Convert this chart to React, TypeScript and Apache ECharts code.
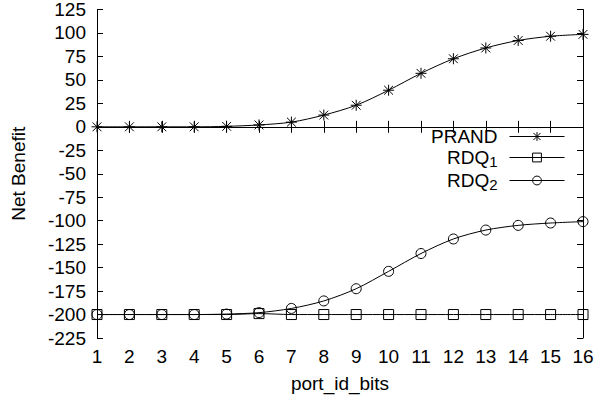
import React, { useEffect, useRef } from "react";
import * as echarts from "echarts";

const xValues = [1, 2, 3, 4, 5, 6, 7, 8, 9, 10, 11, 12, 13, 14, 15, 16];
const prand = [0, 0, 0, 0, 0.5, 2, 5, 12.5, 23, 39, 57, 72.5, 84, 92, 96.5, 98.5];
const rdq1 = [-200, -200, -200, -200, -200, -199, -200, -200, -200, -200, -200, -200, -200, -200, -200, -200];
const rdq2 = [-200, -200, -200, -200, -199.5, -198, -193.5, -185.5, -172.5, -154, -135, -119.5, -110, -105, -102.5, -101];
const yMin = -225;
const yMax = 125;
const yStep = 25;
const xMin = 1;
const xMax = 16;

const FONT = "Liberation Sans, Arial, Helvetica, sans-serif";
const ASTERISK = "path://M0 5H10M5 0V10M1 1L9 9M9 1L1 9";

export default function App() {
  const ref = useRef<HTMLDivElement>(null);
  useEffect(() => {
    if (!ref.current) return;
    const chart = echarts.init(ref.current, null, { renderer: "svg" });
    const axisLabel = { color: "#000", fontSize: 19, fontFamily: FONT };
    const mkSeries = (name: string, vals: number[], symbol: string, size: number) => ({
      name,
      type: "line",
      data: xValues.map((x, i) => [x, vals[i]]),
      symbol,
      symbolSize: size,
      smooth: 0.3,
      showSymbol: true,
      lineStyle: { color: "#000", width: 1 },
      itemStyle: { color: "transparent", borderColor: "#000", borderWidth: 1 },
      emphasis: { disabled: true },
    });
    chart.setOption({
      animation: false,
      backgroundColor: "#fff",
      grid: { left: 97, right: 14, top: 8, bottom: 66, containLabel: false },
      legend: {
        orient: "vertical",
        right: 27,
        top: 122,
        align: "right",
        itemWidth: 55,
        itemHeight: 11,
        itemGap: 0,
        data: ["PRAND", "RDQ1", "RDQ2"],
        lineStyle: { width: 1, color: "#000" },
        itemStyle: { color: "transparent", borderColor: "#000", borderWidth: 1 },
        formatter: (name: string) =>
          name === "PRAND" ? "{m|PRAND}" : "{m|RDQ}{s|" + name.slice(3) + "}",
        textStyle: {
          color: "#000",
          fontFamily: FONT,
          padding: [0, 7, 0, 0],
          rich: {
            m: { fontSize: 19, lineHeight: 15, fontFamily: FONT, color: "#000" },
            s: { fontSize: 15, lineHeight: 7, padding: [8, 0, 0, 0], fontFamily: FONT, color: "#000" },
          },
        },
      },
      xAxis: [
        {
          type: "value",
          min: xMin,
          max: xMax,
          interval: 1,
          name: "port_id_bits",
          nameLocation: "middle",
          nameGap: 36,
          nameTextStyle: { color: "#000", fontSize: 19, fontFamily: FONT },
          axisLine: { show: true, lineStyle: { color: "#000", width: 1 } },
          axisTick: { show: true, inside: true, length: 6, lineStyle: { color: "#000" } },
          axisLabel: { ...axisLabel, margin: 9 },
          splitLine: { show: false },
        },
        {
          type: "value",
          position: "top",
          min: xMin,
          max: xMax,
          interval: 1,
          axisLine: { show: true, lineStyle: { color: "#000", width: 1 } },
          axisTick: { show: true, inside: true, length: 6, lineStyle: { color: "#000" } },
          axisLabel: { show: false },
          splitLine: { show: false },
        },
      ],
      yAxis: [
        {
          type: "value",
          min: yMin,
          max: yMax,
          interval: yStep,
          name: "Net Benefit",
          nameLocation: "middle",
          nameGap: 69,
          nameRotate: 90,
          nameTextStyle: { color: "#000", fontSize: 19, fontFamily: FONT },
          axisLine: { show: true, lineStyle: { color: "#000", width: 1 } },
          axisTick: { show: true, inside: true, length: 6, lineStyle: { color: "#000" } },
          axisLabel: { ...axisLabel, margin: 11 },
          splitLine: { show: false },
        },
        {
          type: "value",
          position: "right",
          min: yMin,
          max: yMax,
          interval: yStep,
          axisLine: { show: true, lineStyle: { color: "#000", width: 1 } },
          axisTick: { show: true, inside: true, length: 6, lineStyle: { color: "#000" } },
          axisLabel: { show: false },
          splitLine: { show: false },
        },
      ],
      series: [
        mkSeries("PRAND", prand, ASTERISK, 11),
        mkSeries("RDQ1", rdq1, "rect", 10),
        mkSeries("RDQ2", rdq2, "circle", 10),
      ],
    });
    return () => chart.dispose();
  }, []);
  return (
    <div
      ref={ref}
      style={{ position: "fixed", left: 0, top: 0, width: 597, height: 404, background: "#fff" }}
    />
  );
}
